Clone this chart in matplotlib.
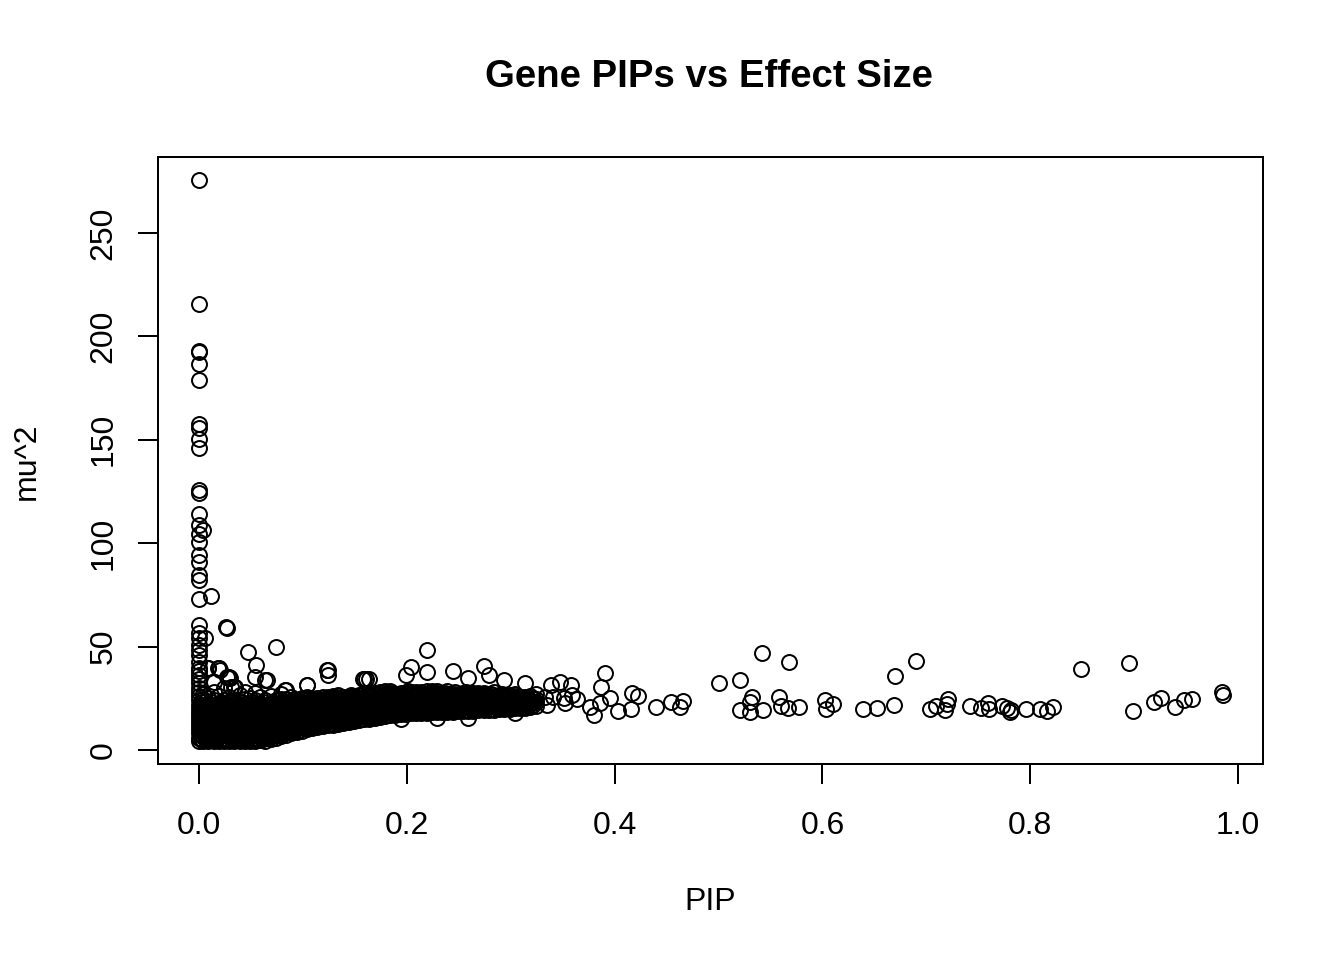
import matplotlib
matplotlib.use('Agg')
import matplotlib.pyplot as plt

plt.rcParams['font.family'] = ['Liberation Sans', 'DejaVu Sans']

# ---------------- data ----------------
# genes with PIP ~ 0 forming the vertical column at the left edge
col0_mu2 = [4.3, 6, 8, 10, 12, 14, 16, 18, 20, 22, 24, 26, 28, 30, 32.5, 34.5,
            36.3, 38, 39.5, 42.7, 45.9, 48.2, 50.8, 54, 56.4, 60.4, 73, 82.2,
            84.6, 91, 94.3, 100.5, 104.3, 108.8, 114.3, 124.3, 125.6, 146.2,
            150.5, 155.9, 157.8, 178.8, 186.8, 192.3, 192.8, 215.5, 275.8]

# dense band of genes: PIP of each column and the mu^2 values in that column
band_pip = [0.004, 0.009, 0.014, 0.019, 0.024, 0.029, 0.034, 0.039, 0.044,
            0.049, 0.054, 0.059, 0.064, 0.069, 0.074, 0.079, 0.084, 0.089,
            0.094, 0.099, 0.104, 0.109, 0.114, 0.119, 0.124, 0.129, 0.134,
            0.139, 0.144, 0.149, 0.154, 0.159, 0.164, 0.169, 0.174, 0.179,
            0.184, 0.189, 0.194, 0.199, 0.204, 0.209, 0.214, 0.219, 0.224,
            0.229, 0.234, 0.239, 0.244, 0.249, 0.254, 0.259, 0.264, 0.269,
            0.274, 0.279, 0.284, 0.289, 0.294, 0.299, 0.304, 0.309, 0.314,
            0.319, 0.324]
band_mu2 = [
    [4.3, 6.2, 8.1, 10, 12.2, 14, 16.1, 18, 20.3, 22, 24.5, 27],
    [4.4, 6, 8.3, 10.1, 12, 14.2, 16, 18.3, 20, 22.4, 25, 39.5],
    [4.3, 6.1, 8, 10.2, 12.1, 14, 16.3, 18.1, 20.2, 22, 24, 28, 33],
    [4.5, 6.3, 8.2, 10, 12.3, 14.1, 16, 18.2, 20.1, 22.3, 26, 39.5],
    [4.3, 6, 8.1, 10.3, 12, 14.3, 16.2, 18, 20, 22.1, 24.2, 30],
    [4.4, 6.2, 8, 10.1, 12.2, 14, 16.1, 18.3, 20.2, 22, 25.5, 34.7, 35.5],
    [4.3, 6.1, 8.3, 10, 12, 14.2, 16, 18.1, 20, 22.2, 24, 30.6],
    [4.5, 6, 8.1, 10.2, 12.1, 14, 16.2, 18, 20.3, 22, 26.5],
    [4.3, 6.2, 8, 10, 12.3, 14.1, 16, 18.2, 20.1, 22.3, 24.5, 28],
    [4.4, 6.1, 8.2, 10.1, 12, 14.3, 16.1, 18, 20, 22, 25],
    [4.3, 6, 8, 10.3, 12.2, 14, 16.3, 18.1, 20.2, 22.1, 24, 27.5],
    [4.6, 6.3, 8.1, 10, 12.1, 14.2, 16, 18.3, 20, 22.2, 25.5],
    [4.5, 6.3, 8.2, 10.1, 12, 14, 16.2, 18, 20.1, 22, 24.3, 33.8],
    [5.2, 7, 8.8, 10.6, 12.4, 14.2, 16, 18.2, 20.3, 22.3, 26],
    [6.0, 7.8, 9.5, 11.3, 13.1, 14.9, 16.7, 18.5, 20.3, 22.1, 24.2],
    [6.7, 8.5, 10.2, 12, 13.7, 15.5, 17.2, 19, 20.7, 22.5, 24.5, 27],
    [7.3, 9, 10.8, 12.5, 14.3, 16, 17.8, 19.5, 21.3, 23, 24.8, 29],
    [8, 9.7, 11.5, 13.2, 15, 16.7, 18.5, 20.2, 22, 23.7, 25.4],
    [8.7, 10.4, 12.2, 13.9, 15.7, 17.4, 19.2, 20.9, 22.7, 24.4],
    [9.3, 11, 12.8, 14.5, 16.3, 18, 19.8, 21.5, 23.3, 25],
    [10, 11.7, 13.5, 15.2, 17, 18.7, 20.5, 22.2, 24, 25.6, 31.4],
    [10.6, 12.3, 14.1, 15.8, 17.6, 19.3, 21.1, 22.8, 24.6],
    [11.1, 12.8, 14.6, 16.3, 18.1, 19.8, 21.6, 23.3, 25.1],
    [11.5, 13.2, 15, 16.7, 18.5, 20.2, 22, 23.7, 25.5],
    [11.9, 13.6, 15.4, 17.1, 18.9, 20.6, 22.4, 24.1, 25.8, 36.3, 38.7],
    [12.3, 14, 15.8, 17.5, 19.3, 21, 22.8, 24.5, 26],
    [12.8, 14.5, 16.3, 18, 19.8, 21.5, 23.3, 25, 26.6],
    [13.2, 14.9, 16.7, 18.4, 20.2, 21.9, 23.7, 25.4],
    [13.6, 15.3, 17.1, 18.8, 20.6, 22.3, 24.1, 25.8],
    [14.1, 15.8, 17.5, 19.3, 21, 22.7, 24.5, 26.2],
    [14.5, 16.2, 18, 19.7, 21.4, 23.2, 24.9, 26.6],
    [14.8, 16.5, 18.2, 20, 21.7, 23.4, 25.1, 27, 34.2],
    [15.2, 16.9, 18.6, 20.3, 22.1, 23.8, 25.5, 27.2, 34.2],
    [15.6, 17.3, 19, 20.7, 22.4, 24.1, 25.8, 27.5],
    [16, 17.7, 19.4, 21.1, 22.8, 24.5, 26.2, 28],
    [16.4, 18.1, 19.8, 21.5, 23.2, 24.9, 26.6, 28.3],
    [16.7, 18.4, 20.1, 21.8, 23.5, 25.2, 26.9, 28.5],
    [17, 18.7, 20.4, 22.1, 23.8, 25.5, 27.2],
    [14.8, 17.3, 19, 20.7, 22.4, 24.1, 25.8, 27.5],
    [17.6, 19.3, 21, 22.7, 24.4, 26.1, 27.8, 36.3],
    [17.8, 19.5, 21.2, 22.9, 24.6, 26.3, 28, 40.3],
    [17.9, 19.6, 21.3, 23, 24.7, 26.4, 28.1],
    [18, 19.7, 21.4, 23.1, 24.8, 26.5, 28.2],
    [18.1, 19.8, 21.5, 23.2, 24.9, 26.6, 28.3, 37.9, 48.4],
    [18.2, 19.9, 21.6, 23.3, 25, 26.7, 28.4],
    [15.3, 18.3, 20, 21.7, 23.4, 25.1, 26.8, 28.5],
    [18.4, 20.1, 21.8, 23.5, 25.2, 26.9],
    [18.5, 20.2, 21.9, 23.6, 25.3, 27, 28.7],
    [18.6, 20.3, 22, 23.7, 25.4, 27.1, 38.3],
    [18.8, 20.5, 22.2, 23.9, 25.6, 27.3],
    [18.9, 20.6, 22.3, 24, 25.7, 27.4],
    [15.3, 19, 20.7, 22.4, 24.1, 25.8, 27.5, 34.7],
    [19.1, 20.8, 22.5, 24.2, 25.9, 27.6],
    [19.2, 20.9, 22.6, 24.3, 26, 27.7],
    [19.3, 21, 22.7, 24.4, 26.1, 27.8, 40.6],
    [19.4, 21.1, 22.8, 24.5, 26.2, 36.3],
    [19.5, 21.2, 22.9, 24.6, 26.3, 28],
    [19.6, 21.3, 23, 24.7, 26.4],
    [19.7, 21.4, 23.1, 24.8, 26.5, 33.8],
    [19.9, 21.6, 23.3, 25, 26.7],
    [17.8, 20.1, 21.8, 23.5, 25.2, 26.9],
    [20.3, 22, 23.7, 25.4],
    [20.5, 22.2, 23.9, 25.6, 32.2],
    [20.8, 22.5, 24.2, 26],
    [21.2, 23, 24.8, 27],
]

# second, staggered set of band columns (genes lying between the ones above)
band2_pip = [0.0015, 0.0065, 0.0115, 0.0165, 0.0215, 0.0265, 0.0315, 0.0365,
             0.0415, 0.0465, 0.0515, 0.0565, 0.0615, 0.0665, 0.0715, 0.0765,
             0.0815, 0.0865, 0.0915, 0.0965, 0.1015, 0.1065, 0.1115, 0.1165,
             0.1215, 0.1265, 0.1315, 0.1365, 0.1415, 0.1465, 0.1515, 0.1565,
             0.1615, 0.1665, 0.1715, 0.1765, 0.1815, 0.1865, 0.1915, 0.1965,
             0.2015, 0.2065, 0.2115, 0.2165, 0.2215, 0.2265, 0.2315, 0.2365,
             0.2415, 0.2465, 0.2515, 0.2565, 0.2615, 0.2665, 0.2715, 0.2765,
             0.2815, 0.2865, 0.2915, 0.2965, 0.3015, 0.3065, 0.3115, 0.3165,
             0.3215]
band2_mu2 = [
    [5.2, 7.1, 9, 11.1, 13, 15.1, 17, 19.2, 21.1, 23],
    [5.3, 7.2, 9.1, 11, 13.1, 15, 17.2, 19.1, 21.2],
    [5.2, 7, 9.2, 11.1, 13, 15.2, 17.1, 19, 21.1, 23.2],
    [5.4, 7.2, 9.1, 11.2, 13.2, 15.1, 17, 19.2, 21.2],
    [5.3, 7.1, 9, 11, 13.1, 15.2, 17.1, 19.1, 21, 23],
    [5.2, 7.3, 9.1, 11.2, 13, 15, 17.2, 19.2, 21.1],
    [5.4, 7.1, 9.2, 11, 13.2, 15.1, 17, 19, 21.2, 23.1],
    [5.3, 7.2, 9, 11.1, 13.1, 15.2, 17.1, 19.2, 21],
    [5.2, 7, 9.1, 11.2, 13, 15, 17.2, 19.1, 21.2, 23],
    [5.4, 7.2, 9.2, 11, 13.2, 15.1, 17, 19, 21.1],
    [5.3, 7.1, 9, 11.1, 13.1, 15.2, 17.1, 19.2, 21, 23.1],
    [5.4, 7.3, 9.1, 11.2, 13, 15, 17.2, 19.1, 21.2],
    [5.5, 7.3, 9.2, 11, 13.1, 15.1, 17, 19, 21.1, 23],
    [6, 7.9, 9.7, 11.5, 13.3, 15.1, 17, 19, 21.2],
    [6.7, 8.5, 10.3, 12.1, 13.9, 15.7, 17.5, 19.3, 21.2, 23],
    [7.4, 9.2, 10.9, 12.7, 14.5, 16.3, 18.1, 19.9, 21.6],
    [8, 9.7, 11.5, 13.2, 15, 16.7, 18.5, 20.2, 22, 23.7],
    [8.6, 10.3, 12.1, 13.8, 15.6, 17.3, 19.1, 20.8, 22.6],
    [9.2, 10.9, 12.7, 14.4, 16.2, 17.9, 19.7, 21.4, 23.2, 24.8],
    [9.8, 11.5, 13.3, 15, 16.8, 18.5, 20.3, 22, 23.8],
    [10.5, 12.2, 14, 15.7, 17.5, 19.2, 21, 22.7, 24.5],
    [11.1, 12.8, 14.6, 16.3, 18.1, 19.8, 21.6, 23.3, 25],
    [11.6, 13.3, 15.1, 16.8, 18.6, 20.3, 22.1, 23.8],
    [12, 13.7, 15.5, 17.2, 19, 20.7, 22.5, 24.2],
    [12.4, 14.1, 15.9, 17.6, 19.4, 21.1, 22.9, 24.6],
    [12.8, 14.5, 16.3, 18, 19.8, 21.5, 23.3, 25],
    [13.2, 14.9, 16.7, 18.4, 20.2, 21.9, 23.7, 25.4],
    [13.6, 15.3, 17.1, 18.8, 20.6, 22.3, 24.1, 25.8],
    [14, 15.7, 17.5, 19.2, 21, 22.7, 24.5],
    [14.5, 16.2, 18, 19.7, 21.5, 23.2, 25, 26.6],
    [14.9, 16.6, 18.4, 20.1, 21.9, 23.6, 25.4],
    [15.2, 16.9, 18.7, 20.4, 22.2, 23.9, 25.7],
    [15.6, 17.3, 19.1, 20.8, 22.6, 24.3, 26.1],
    [16, 17.7, 19.5, 21.2, 23, 24.7, 26.5],
    [16.4, 18.1, 19.9, 21.6, 23.4, 25.1, 26.9],
    [16.8, 18.5, 20.3, 22, 23.8, 25.5, 27.2],
    [17.1, 18.8, 20.6, 22.3, 24.1, 25.8, 27.5],
    [17.4, 19.1, 20.9, 22.6, 24.4, 26.1, 27.8],
    [17.7, 19.4, 21.2, 22.9, 24.7, 26.4],
    [18, 19.7, 21.5, 23.2, 25, 26.7],
    [18.2, 19.9, 21.7, 23.4, 25.2, 26.9, 28.6],
    [18.4, 20.1, 21.9, 23.6, 25.4, 27.1],
    [18.5, 20.2, 22, 23.7, 25.5, 27.2],
    [18.6, 20.3, 22.1, 23.8, 25.6, 27.3],
    [18.7, 20.4, 22.2, 23.9, 25.7, 27.4],
    [18.8, 20.5, 22.3, 24, 25.8, 27.5],
    [18.9, 20.6, 22.4, 24.1, 25.9, 27.6],
    [19, 20.7, 22.5, 24.2, 26, 27.7],
    [19.1, 20.8, 22.6, 24.3, 26.1],
    [19.3, 21, 22.8, 24.5, 26.3, 28],
    [19.4, 21.1, 22.9, 24.6, 26.4],
    [19.5, 21.2, 23, 24.7, 26.5, 28.2],
    [19.6, 21.3, 23.1, 24.8, 26.6],
    [19.7, 21.4, 23.2, 24.9, 26.7],
    [19.8, 21.5, 23.3, 25, 26.8],
    [19.9, 21.6, 23.4, 25.1, 26.9],
    [20, 21.7, 23.5, 25.2, 27],
    [20.1, 21.8, 23.6, 25.3],
    [20.2, 21.9, 23.7, 25.4, 27.1],
    [20.4, 22.1, 23.9, 25.6],
    [20.6, 22.3, 24.1, 25.8],
    [20.8, 22.5, 24.3, 26],
    [21, 22.7, 24.5],
    [21.3, 23, 24.8],
    [21.6, 23.4, 25.2],
]

# isolated genes (outliers near the left, and the sparse tail to the right)
scatter_pip = [0.004, 0.012, 0.0058, 0.026, 0.027, 0.047, 0.074, 0.055,
               0.054, 0.065, 0.0186, 0.009, 0.027, 0.031, 0.0202, 0.0298,
               0.0346, 0.0828, 0.1037, 0.123, 0.1575, 0.161,
               0.333, 0.335, 0.339, 0.341, 0.347, 0.351, 0.352, 0.358, 0.359,
               0.364, 0.376, 0.380, 0.386, 0.387, 0.391, 0.396, 0.403,
               0.4155, 0.417, 0.423, 0.440, 0.454, 0.463, 0.466,
               0.500, 0.521, 0.521, 0.530, 0.532, 0.530, 0.5415, 0.5425,
               0.5585, 0.560, 0.567, 0.568, 0.577, 0.6025, 0.6035, 0.6105,
               0.6388, 0.6529, 0.669, 0.670, 0.690, 0.7036, 0.7093, 0.718,
               0.7196, 0.721, 0.742, 0.753, 0.7597, 0.7607, 0.7725, 0.7774,
               0.7806, 0.782, 0.796, 0.8095, 0.8159, 0.822, 0.8486, 0.8954,
               0.8986, 0.919, 0.926, 0.939, 0.948, 0.9554, 0.9843, 0.9853]
scatter_mu2 = [106.4, 74.5, 54.3, 59.3, 58.8, 47.5, 49.6, 41.3,
               35.5, 33.8, 39.5, 39.5, 35.5, 30.6, 38.7, 34.7,
               30.6, 29, 31.4, 38.7, 34.2, 34.2,
               25.8, 21.8, 31.4, 25.8, 33.0, 25.0, 22.6, 31.4, 26.6,
               24.5, 20.9, 16.9, 22.9, 30.3, 37.1, 25.0, 19.0,
               19.7, 27.4, 26.1, 20.9, 23.1, 20.6, 23.8,
               32.2, 33.8, 19.3, 23.4, 25.8, 18.5, 47.0, 19.3,
               25.8, 21.3, 20.1, 42.4, 20.6, 24.2, 19.7, 22.4,
               19.8, 20.1, 21.8, 35.9, 43.2, 19.8, 21.3, 19.3,
               22.2, 24.5, 21.3, 20.1, 22.6, 19.8, 21.3, 20.1,
               18.5, 19.3, 19.8, 19.8, 19.0, 20.6, 39.2, 41.9,
               19.0, 23.4, 25.0, 20.9, 24.2, 24.7, 28.2, 26.6]

x_ticks = [0.0, 0.2, 0.4, 0.6, 0.8, 1.0]
x_ticklabels = ['0.0', '0.2', '0.4', '0.6', '0.8', '1.0']
y_ticks = [0, 50, 100, 150, 200, 250]
y_ticklabels = ['0', '50', '100', '150', '200', '250']

# ---------------- assemble ----------------
pip = [0.0] * len(col0_mu2)
mu2 = list(col0_mu2)
for p, col in zip(band_pip + band2_pip, band_mu2 + band2_mu2):
    pip += [p] * len(col)
    mu2 += col
pip += scatter_pip
mu2 += scatter_mu2

# ---------------- figure ----------------
W, H = 1344, 960
fig = plt.figure(figsize=(W / 192, H / 192), dpi=192)
L, R, T, B = 158, 1263, 157, 764
ax = fig.add_axes([L / W, 1 - B / H, (R - L) / W, (B - T) / H])

ax.plot(pip, mu2, linestyle='none', marker='o', markersize=5.6,
        markerfacecolor='none', markeredgecolor='black', markeredgewidth=0.75)

ax.set_xlim(-0.03946, 1.02406)
ax.set_ylim(-6.77, 286.75)

ax.set_xticks(x_ticks)
ax.set_xticklabels(x_ticklabels)
ax.set_yticks(y_ticks)
ax.set_yticklabels(y_ticklabels, rotation=90, va='center')

ax.tick_params(axis='both', direction='out', length=7.5, width=0.75,
               labelsize=12, colors='black')
ax.tick_params(axis='x', pad=10.3)
ax.tick_params(axis='y', pad=7.4)
for s in ax.spines.values():
    s.set_linewidth(0.75)
    s.set_color('black')

fig.text(709 / W, 1 - 86.7 / H, 'Gene PIPs vs Effect Size', ha='center',
         va='baseline', fontsize=14.4, fontweight='bold')
fig.text(710.5 / W, 1 - 910 / H, 'PIP', ha='center', va='baseline',
         fontsize=12)
fig.text(35 / W, 1 - 461.7 / H, 'mu^2', ha='center', va='baseline',
         rotation=90, rotation_mode='anchor', fontsize=12)

fig.savefig('out.png', dpi=192, facecolor='white')
